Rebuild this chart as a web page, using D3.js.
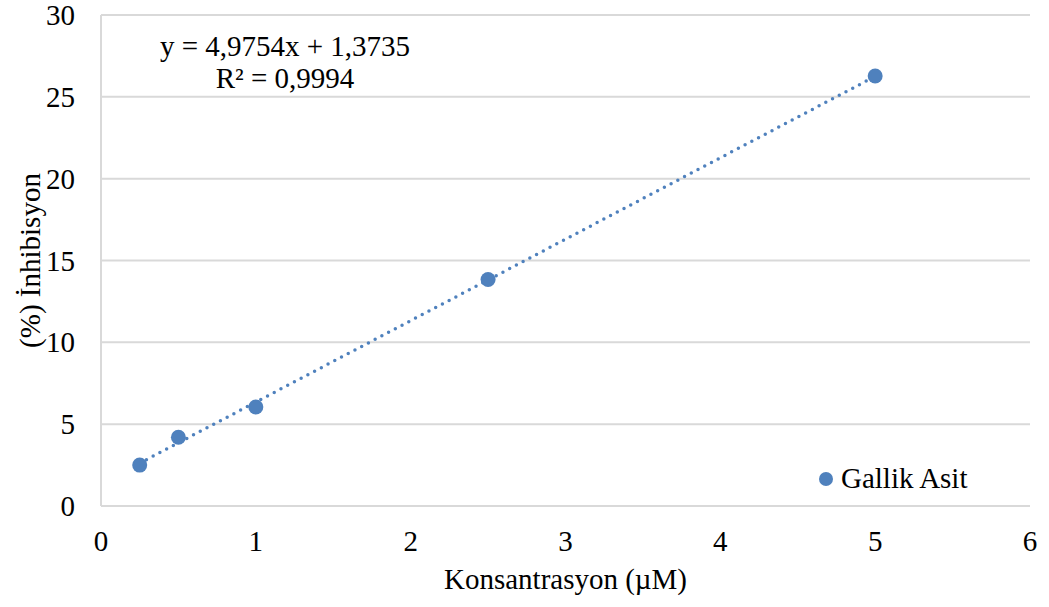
<!DOCTYPE html>
<html>
<head>
<meta charset="utf-8">
<script src="https://cdn.jsdelivr.net/npm/d3@7"></script>
<style>
  html, body { margin: 0; padding: 0; background: #fff; }
  text { font-family: "Liberation Serif", "Times New Roman", serif; fill: #000; }
</style>
</head>
<body>
<svg id="chart" width="1049" height="607"></svg>
<script>
// Gallic acid inhibition vs concentration
const concentrations = [0.25, 0.5, 1, 2.5, 5];
const inhibition = [2.5, 4.2, 6.05, 13.84, 26.27];
const xTicks = [0, 1, 2, 3, 4, 5, 6];
const yTicks = [0, 5, 10, 15, 20, 25, 30];
const slope = 4.9754;
const intercept = 1.3735;
const equationLabel = "y = 4,9754x + 1,3735";
const r2Label = "R² = 0,9994";
const seriesName = "Gallik Asit";
const xTitle = "Konsantrasyon (µM)";
const yTitle = "(%) İnhibisyon";

const color = "#4f81bd";
const fontSize = 29;
const svg = d3.select("#chart");
const margin = { left: 101, right: 19, top: 15, bottom: 101 };
const W = 1049, H = 607;

const x = d3.scaleLinear().domain([0, 6]).range([margin.left, W - margin.right]);
const y = d3.scaleLinear().domain([0, 30]).range([H - margin.bottom, margin.top]);

// horizontal gridlines
svg.append("g").selectAll("line").data(yTicks.filter(d => d > 0)).join("line")
  .attr("x1", x(0)).attr("x2", x(6))
  .attr("y1", d => y(d)).attr("y2", d => y(d))
  .attr("stroke", "#d9d9d9").attr("stroke-width", 2);

// axis lines
svg.append("line").attr("x1", x(0)).attr("x2", x(0)).attr("y1", y(0)).attr("y2", y(30))
  .attr("stroke", "#d9d9d9").attr("stroke-width", 2);
svg.append("line").attr("x1", x(0)).attr("x2", x(6)).attr("y1", y(0)).attr("y2", y(0))
  .attr("stroke", "#d9d9d9").attr("stroke-width", 2);

// tick labels
svg.append("g").selectAll("text").data(yTicks).join("text")
  .attr("x", x(0) - 26).attr("y", d => y(d) + 10)
  .attr("text-anchor", "end").attr("font-size", fontSize).text(d => d);
svg.append("g").selectAll("text").data(xTicks).join("text")
  .attr("x", d => x(d)).attr("y", y(0) + 45)
  .attr("text-anchor", "middle").attr("font-size", fontSize).text(d => d);

// axis titles
svg.append("text").attr("x", (x(0) + x(6)) / 2).attr("y", 589)
  .attr("text-anchor", "middle").attr("font-size", fontSize).text(xTitle);
svg.append("text").attr("transform", `translate(40, ${(y(0) + y(30)) / 2}) rotate(-90)`)
  .attr("text-anchor", "middle").attr("font-size", fontSize).text(yTitle);

// linear trendline (dotted)
const xMin = d3.min(concentrations), xMax = d3.max(concentrations);
svg.append("line")
  .attr("x1", x(xMin)).attr("y1", y(slope * xMin + intercept))
  .attr("x2", x(xMax)).attr("y2", y(slope * xMax + intercept))
  .attr("stroke", color).attr("stroke-width", 3.5)
  .attr("stroke-linecap", "round").attr("stroke-dasharray", "0 7.6");

// data markers
svg.append("g").selectAll("circle").data(concentrations).join("circle")
  .attr("cx", d => x(d)).attr("cy", (d, i) => y(inhibition[i]))
  .attr("r", 7.5).attr("fill", color);

// equation label
svg.append("text").attr("x", 285).attr("y", 56).attr("text-anchor", "middle")
  .attr("font-size", fontSize).text(equationLabel);
svg.append("text").attr("x", 285).attr("y", 88).attr("text-anchor", "middle")
  .attr("font-size", fontSize).text(r2Label);

// legend
svg.append("circle").attr("cx", 826).attr("cy", 479).attr("r", 7).attr("fill", color);
svg.append("text").attr("x", 841).attr("y", 488)
  .attr("font-size", fontSize).text(seriesName);
</script>
</body>
</html>
